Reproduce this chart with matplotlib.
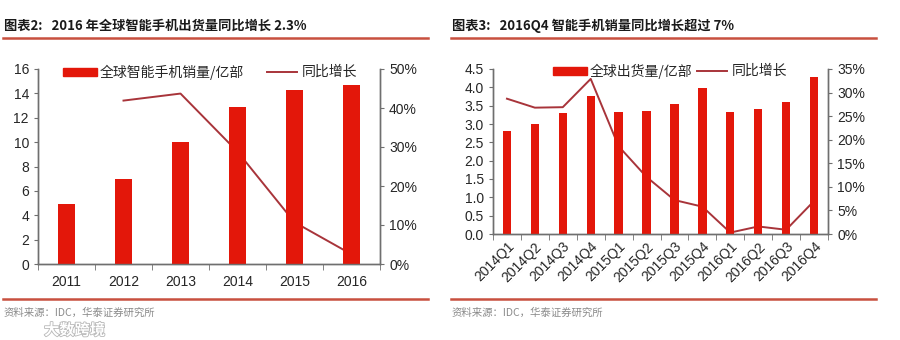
import numpy as np
import matplotlib
matplotlib.use('Agg')
import matplotlib.pyplot as plt
from matplotlib.ticker import FixedLocator, PercentFormatter
import matplotlib.patheffects as pe

plt.rcParams['font.family'] = ['Liberation Sans', 'Noto Sans CJK SC', 'DejaVu Sans']

#annual shipments (100M units) and yoy growth (%)
years = ['2011', '2012', '2013', '2014', '2015', '2016']
ship_year = [4.9, 6.95, 10.0, 12.9, 14.3, 14.7]
growth_year = [np.nan, 41.9, 43.7, 28.8, 10.7, 2.5]

#quarterly shipments and yoy growth (%)
quarters = ['2014Q1', '2014Q2', '2014Q3', '2014Q4',
            '2015Q1', '2015Q2', '2015Q3', '2015Q4',
            '2016Q1', '2016Q2', '2016Q3', '2016Q4']
ship_q = [2.80, 3.00, 3.31, 3.77, 3.32, 3.36, 3.54, 3.98, 3.33, 3.42, 3.61, 4.28]
growth_q = [28.7, 26.8, 26.9, 32.9, 18.6, 12.1, 7.2, 5.8, 0.3, 1.6, 0.9, 7.0]

bar_c = '#E3170A'
line_c = '#A8343A'
rule_c = '#C8503F'
axis_c = '#6f6f6f'
txt_c = '#262626'

W, H = 900, 340
fig = plt.figure(figsize=(9, 3.4), dpi=100)
fig.patch.set_facecolor('white')

def px(x0, y0, x1, y1):
    return [x0 / W, 1 - y1 / H, (x1 - x0) / W, (y1 - y0) / H]

def style(ax, ax2, n):
    for a in (ax, ax2):
        a.spines['top'].set_visible(False)
        for s in ('left', 'right', 'bottom'):
            a.spines[s].set_color(axis_c)
            a.spines[s].set_linewidth(1.0)
        a.tick_params(colors=txt_c, labelsize=10, length=3, width=0.8, direction='out')
        a.tick_params(axis='y', color=axis_c)
    ax.set_xlim(-0.5, n - 0.5)
    ax.xaxis.set_minor_locator(FixedLocator(np.arange(-0.5, n, 1.0)))
    ax.tick_params(axis='x', which='major', length=0, pad=8)
    ax.tick_params(axis='x', which='minor', length=4, color=axis_c)
    ax.set_facecolor('none')

def legend(ax, bar_lbl, x_bar, x_line, y):
    fig.patches.append(plt.Rectangle((x_bar / W, 1 - (y + 4) / H), 34 / W, 8 / H,
                                     transform=fig.transFigure, color=bar_c))
    fig.text((x_bar + 37) / W, 1 - y / H, bar_lbl, fontsize=10, color=txt_c,
             va='center', family=['Noto Sans CJK SC', 'DejaVu Sans'])
    fig.lines.append(plt.Line2D([x_line / W, (x_line + 30) / W], [1 - y / H] * 2,
                                transform=fig.transFigure, color=line_c, lw=1.4))
    fig.text((x_line + 35) / W, 1 - y / H, '同比增长', fontsize=10, color=txt_c,
             va='center', family=['Noto Sans CJK SC', 'DejaVu Sans'])

def frame(x0, x1, title):
    fig.text(x0 + 1 / W, 1 - 26 / H, title, fontsize=9.5, fontweight='bold',
             color='#1a1a1a', va='center', family=['Noto Sans CJK SC', 'DejaVu Sans'])
    for yy in (37.5, 299):
        fig.lines.append(plt.Line2D([x0, x1], [1 - yy / H] * 2,
                                    transform=fig.transFigure, color=rule_c, lw=1.8))
    fig.text(x0 + 1 / W, 1 - 313 / H, '资料来源：IDC，华泰证券研究所', fontsize=7.5,
             color='#8a8a8a', va='center', family=['Noto Sans CJK SC', 'DejaVu Sans'])

#left panel: annual
ax1 = fig.add_axes(px(38, 69, 380, 264))
ax1b = ax1.twinx()
ax1.set_zorder(ax1b.get_zorder() + 1)
x = np.arange(len(years))
ax1.bar(x, ship_year, width=0.3, color=bar_c, zorder=2)
ax1b.plot(x, growth_year, color=line_c, lw=1.4)
ax1.set_ylim(0, 16)
ax1.set_yticks(np.arange(0, 17, 2))
ax1b.set_ylim(0, 50)
ax1b.set_yticks(np.arange(0, 51, 10))
ax1b.yaxis.set_major_formatter(PercentFormatter(decimals=0))
ax1.set_xticks(x)
ax1.set_xticklabels(years)
style(ax1, ax1b, len(years))
ax1.patch.set_visible(False)
legend(ax1, '全球智能手机销量/亿部', 63, 267, 72)
frame(3 / W, 428 / W, '图表2:   2016 年全球智能手机出货量同比增长 2.3%')

#right panel: quarterly
ax2 = fig.add_axes(px(493, 69, 828, 234))
ax2b = ax2.twinx()
ax2.set_zorder(ax2b.get_zorder() + 1)
xq = np.arange(len(quarters))
ax2.bar(xq, ship_q, width=0.3, color=bar_c, zorder=2)
ax2b.plot(xq, growth_q, color=line_c, lw=1.4)
ax2.set_ylim(0, 4.5)
ax2.set_yticks(np.arange(0, 4.51, 0.5))
ax2.set_yticklabels([f'{v:.1f}' for v in np.arange(0, 4.51, 0.5)])
ax2b.set_ylim(0, 35)
ax2b.set_yticks(np.arange(0, 36, 5))
ax2b.yaxis.set_major_formatter(PercentFormatter(decimals=0))
ax2.set_xticks(xq)
ax2.set_xticklabels(quarters, rotation=45, ha='right', rotation_mode='anchor')
style(ax2, ax2b, len(quarters))
ax2.tick_params(axis='x', which='major', pad=4)
ax2.patch.set_visible(False)
legend(ax2, '全球出货量/亿部', 553, 697, 71)
frame(451 / W, 876 / W, '图表3:   2016Q4 智能手机销量同比增长超过 7%')

#account watermark
fig.text(44 / W, 1 - 330 / H, '大数跨境', fontsize=11, color='white', va='center',
         family=['Noto Sans CJK SC', 'DejaVu Sans'], fontweight='bold',
         path_effects=[pe.withStroke(linewidth=1.2, foreground='#b8b8b8')])

fig.savefig('out.png', dpi=100, facecolor='white')
